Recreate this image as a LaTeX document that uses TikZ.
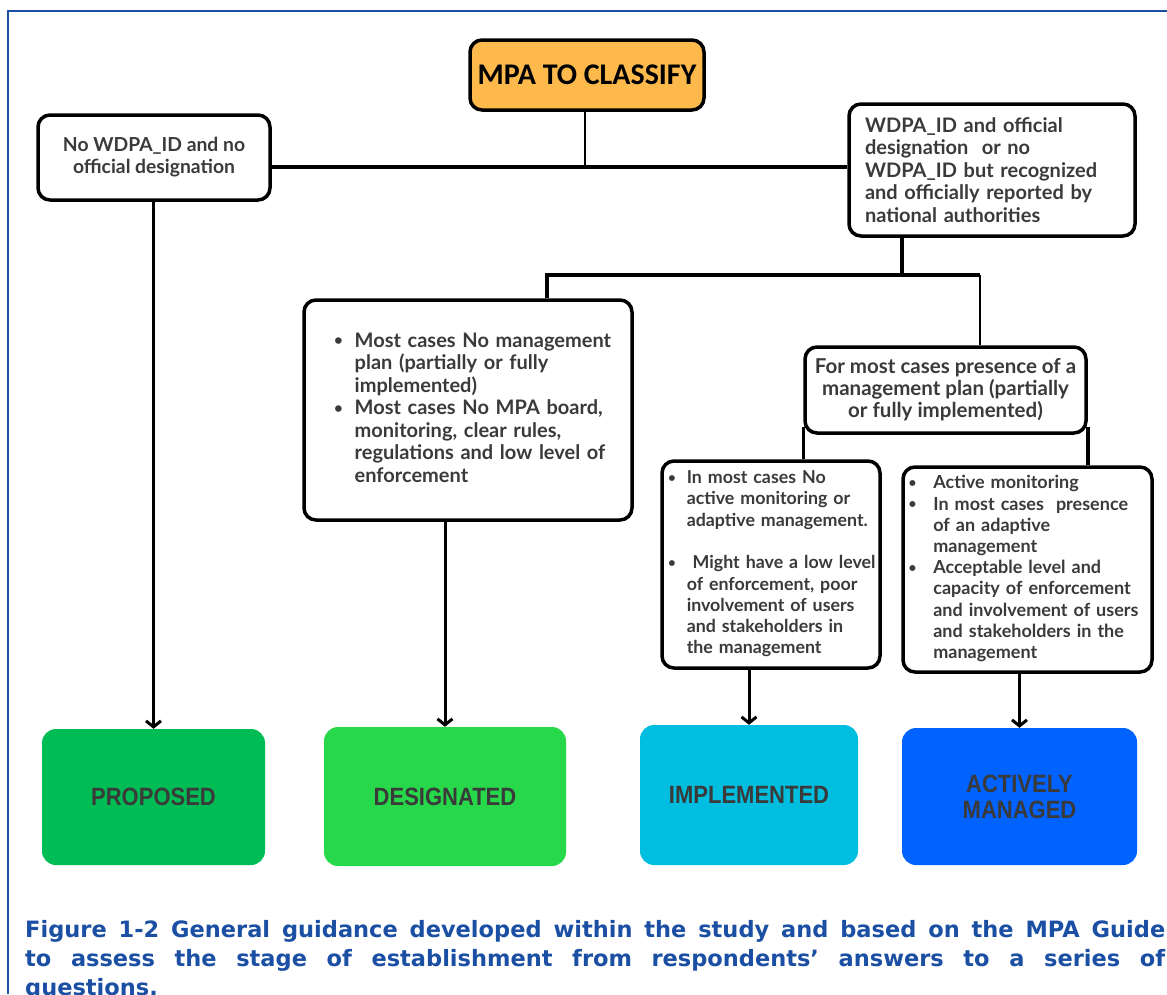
\documentclass[tikz,border=0pt]{standalone}
\usepackage{fontspec}
\setmainfont{Lato}
\newfontfamily\titlefont{Carlito}
\newfontfamily\stagefont[FakeStretch=0.88]{Liberation Sans}
\newfontfamily\captionfont{DejaVu Sans}
\usetikzlibrary{arrows.meta, positioning, calc}

\definecolor{mpaorange}{HTML}{FDB94B}
\definecolor{txtgray}{HTML}{3A3A3A}
\definecolor{propgreen}{HTML}{00BC55}
\definecolor{desgreen}{HTML}{26D84A}
\definecolor{impcyan}{HTML}{00BEE0}
\definecolor{actblue}{HTML}{0062FF}
\definecolor{capblue}{HTML}{1A4FA3}

\newcommand{\bul}{\raisebox{1.5pt}{\scalebox{0.75}{\textbullet}}}

\begin{document}
\begin{tikzpicture}[x=1pt, y=-1pt,
	box/.style={draw, line width=3.5pt, rounded corners=12pt, fill=white, text=txtgray, font=\bfseries\fontsize{20}{22.5}\selectfont, inner sep=0pt},
	stage/.style={rounded corners=14pt, text=txtgray, font=\stagefont\bfseries\fontsize{25}{26}\selectfont, align=center, inner sep=0pt},
	link/.style={line width=3.5pt},
	arrow/.style={line width=3pt, -{Straight Barb[length=6pt,width=15pt]}}]
		\useasboundingbox (0,0) rectangle (1167,994);
		\fill[white] (0,0) rectangle (1167,994);
		\draw[capblue, line width=2pt] (8,994) -- (8,11) -- (1167,11);
		
		\node[box, fill=mpaorange, text=black, font=\titlefont\bfseries\fontsize{30}{32}\selectfont, minimum width=234pt, minimum height=70pt] (MPA) at (587,75) {MPA TO CLASSIFY};
		\node[box, minimum width=232pt, minimum height=85pt, align=center, font=\bfseries\fontsize{19.3}{22}\selectfont] (NoID) at (154,157.5) {No WDPA\_ID and no\\official designation};
		\node[box, minimum width=286pt, minimum height=132pt, text width=254pt, align=left] (Off) at (992,170) {WDPA\_ID and official\\designation~ or no\\WDPA\_ID but recognized\\and officially reported by\\national authorities};
		
		\node[box, minimum width=328pt, minimum height=220pt, text width=268pt] (Des) at (468,410) {\begin{tabular}{@{}l@{\hspace{12pt}}l@{}}
			\bul & Most cases No management\\
			& plan (partially or fully\\
			& implemented)\\
			\bul & Most cases No MPA board,\\
			& monitoring, clear rules,\\
			& regulations and low level of\\
			& enforcement
		\end{tabular}};
		\node[box, minimum width=281pt, minimum height=86pt, align=center, font=\bfseries\fontsize{20.5}{22}\selectfont] (Mgmt) at (945.5,390) {For most cases presence of a\\management plan (partially\\or fully implemented)};
		
		\node[box, minimum width=218pt, minimum height=207pt, text width=206pt, font=\bfseries\fontsize{17.8}{21.3}\selectfont] (Imp) at (771,564.5) {\begin{tabular}{@{}l@{\hspace{11pt}}l@{}}
			\bul & In most cases No\\
			& active monitoring or\\
			& adaptive management.\\
			& \\
			\bul & \ Might have a low level\\
			& of enforcement, poor\\
			& involvement of users\\
			& and stakeholders in\\
			& the management
		\end{tabular}};
		\node[box, minimum width=249pt, minimum height=205pt, text width=238pt, font=\bfseries\fontsize{18}{21.2}\selectfont] (Act) at (1027.5,569.5) {\begin{tabular}{@{}l@{\hspace{17pt}}l@{}}
			\bul & Active monitoring\\
			\bul & In most cases~ presence\\
			& of an adaptive\\
			& management\\
			\bul & Acceptable level and\\
			& capacity of enforcement\\
			& and involvement of users\\
			& and stakeholders in the\\
			& management
		\end{tabular}};
		
		\node[stage, fill=propgreen, minimum width=223pt, minimum height=136pt] (Prop) at (153.5,797) {PROPOSED};
		\node[stage, fill=desgreen, minimum width=242pt, minimum height=139pt] (Desg) at (445,796.5) {DESIGNATED};
		\node[stage, fill=impcyan, minimum width=218pt, minimum height=140pt] (Impl) at (749,795) {IMPLEMENTED};
		\node[stage, fill=actblue, minimum width=235pt, minimum height=137pt] (Actv) at (1019.5,796.5) {ACTIVELY\\MANAGED};
		
		\coordinate (J1) at (585,167);
		\coordinate (J2) at (902,275);
		\coordinate (J3) at (547,275);
		\coordinate (J4) at (980,275);
		
		\draw[link, line width=2.5pt] (MPA.south -| J1) -- (J1);
		\draw[link] (NoID.east |- J1) -- (Off.west |- J1);
		\draw[link] (Off.south -| J2) -- (J2);
		\draw[link] (Des.north -| J3) -- (J3) -- (J4);
		\draw[link, line width=2.5pt] (J4) -- (Mgmt.north -| J4);
		\draw[link] ([yshift=8pt]Mgmt.south west) -- (Mgmt.south west |- Imp.north);
		\draw[link] ([yshift=8pt]Mgmt.south east) -- (Mgmt.south east |- Act.north);
		
		\draw[arrow] (NoID.south -| Prop.north) -- (Prop.north);
		\draw[arrow] (Des.south -| Desg.north) -- (Desg.north);
		\draw[arrow] (Imp.south -| Impl.north) -- (Impl.north);
		\draw[arrow] (Act.south -| Actv.north) -- (Actv.north);
		
		\node[anchor=north west, inner sep=0pt, text width=1140pt, align=justify, text=capblue, font=\captionfont\bfseries\fontsize{22.5}{29}\selectfont] (Cap) at (25,920) {Figure 1-2 General guidance developed within the study and based on the MPA Guide\linebreak to assess the stage of establishment from respondents’ answers to a series of\linebreak questions.};
\end{tikzpicture}
\end{document}
